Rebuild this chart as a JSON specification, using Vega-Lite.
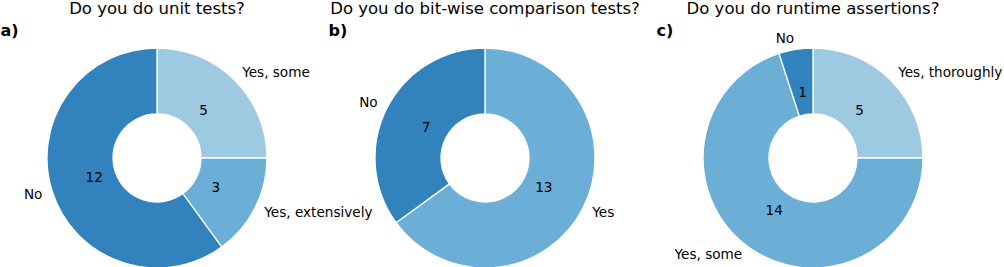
{
  "$schema": "https://vega.github.io/schema/vega-lite/v6.json",
  "padding": 0,
  "autosize": {"type": "pad"},
  "bounds": "flush",
  "spacing": 14,
  "config": {
    "view": {"stroke": null},
    "font": "DejaVu Sans",
    "title": {"font": "DejaVu Sans", "fontSize": 16.5, "fontWeight": "normal", "color": "black", "frame": "group", "anchor": "middle", "offset": 5},
    "axis": {
      "labels": false, "ticks": false, "domain": false, "grid": false,
      "titleFont": "DejaVu Sans", "titleFontSize": 16, "titleFontWeight": "bold", "titleColor": "black",
      "titleAnchor": "start", "titleAlign": "left", "titlePadding": 10
    },
    "text": {"font": "DejaVu Sans", "fontSize": 13.6, "color": "black", "baseline": "middle"}
  },
  "resolve": {"scale": {"color": "independent", "theta": "independent", "x": "independent"}},
  "datasets": {
    "a": [
      {"question": "Do you do unit tests?", "answer": "Yes, some", "n": 5, "k": 1},
      {"question": "Do you do unit tests?", "answer": "Yes, extensively", "n": 3, "k": 2},
      {"question": "Do you do unit tests?", "answer": "No", "n": 12, "k": 3}
    ],
    "b": [
      {"question": "Do you do bit-wise comparison tests?", "answer": "Yes", "n": 13, "k": 1},
      {"question": "Do you do bit-wise comparison tests?", "answer": "No", "n": 7, "k": 2}
    ],
    "c": [
      {"question": "Do you do runtime assertions?", "answer": "Yes, thoroughly", "n": 5, "k": 1},
      {"question": "Do you do runtime assertions?", "answer": "Yes, some", "n": 14, "k": 2},
      {"question": "Do you do runtime assertions?", "answer": "No", "n": 1, "k": 3}
    ]
  },
  "hconcat": [
    {
      "width": 314, "height": 220,
      "title": {"text": "Do you do unit tests?"},
      "data": {"name": "a"},
      "encoding": {
        "x": {"field": "question", "type": "nominal", "axis": {"orient": "top", "title": "a)"}},
        "theta": {"field": "n", "type": "quantitative", "stack": true},
        "order": {"field": "k", "type": "quantitative"}
      },
      "layer": [
        {"mark": {"type": "arc", "innerRadius": 44, "outerRadius": 110, "stroke": "white", "strokeWidth": 1.3},
         "encoding": {"color": {"field": "answer", "type": "nominal", "legend": null,
           "scale": {"domain": ["Yes, some", "Yes, extensively", "No"], "range": ["#9ecae1", "#6baed6", "#3182bd"]}}}},
        {"mark": {"type": "text", "radius": 66, "align": "center"},
         "encoding": {"text": {"field": "n", "type": "quantitative"}}},
        {"mark": {"type": "text", "radius": 120.5, "align": {"expr": "datum.n_start + datum.n_end < 20 ? 'left' : 'right'"}},
         "encoding": {"text": {"field": "answer", "type": "nominal"}}}
      ]
    },
    {
      "width": 314, "height": 220,
      "title": {"text": "Do you do bit-wise comparison tests?"},
      "data": {"name": "b"},
      "encoding": {
        "x": {"field": "question", "type": "nominal", "axis": {"orient": "top", "title": "b)"}},
        "theta": {"field": "n", "type": "quantitative", "stack": true},
        "order": {"field": "k", "type": "quantitative"}
      },
      "layer": [
        {"mark": {"type": "arc", "innerRadius": 44, "outerRadius": 110, "stroke": "white", "strokeWidth": 1.3},
         "encoding": {"color": {"field": "answer", "type": "nominal", "legend": null,
           "scale": {"domain": ["Yes", "No"], "range": ["#6baed6", "#3182bd"]}}}},
        {"mark": {"type": "text", "radius": 66, "align": "center"},
         "encoding": {"text": {"field": "n", "type": "quantitative"}}},
        {"mark": {"type": "text", "radius": 120.5, "align": {"expr": "datum.n_start + datum.n_end < 20 ? 'left' : 'right'"}},
         "encoding": {"text": {"field": "answer", "type": "nominal"}}}
      ]
    },
    {
      "width": 314, "height": 220,
      "title": {"text": "Do you do runtime assertions?"},
      "data": {"name": "c"},
      "encoding": {
        "x": {"field": "question", "type": "nominal", "axis": {"orient": "top", "title": "c)"}},
        "theta": {"field": "n", "type": "quantitative", "stack": true},
        "order": {"field": "k", "type": "quantitative"}
      },
      "layer": [
        {"mark": {"type": "arc", "innerRadius": 44, "outerRadius": 110, "stroke": "white", "strokeWidth": 1.3},
         "encoding": {"color": {"field": "answer", "type": "nominal", "legend": null,
           "scale": {"domain": ["Yes, thoroughly", "Yes, some", "No"], "range": ["#9ecae1", "#6baed6", "#3182bd"]}}}},
        {"mark": {"type": "text", "radius": 66, "align": "center"},
         "encoding": {"text": {"field": "n", "type": "quantitative"}}},
        {"mark": {"type": "text", "radius": 120.5, "align": {"expr": "datum.n_start + datum.n_end < 20 ? 'left' : 'right'"}},
         "encoding": {"text": {"field": "answer", "type": "nominal"}}}
      ]
    }
  ]
}
